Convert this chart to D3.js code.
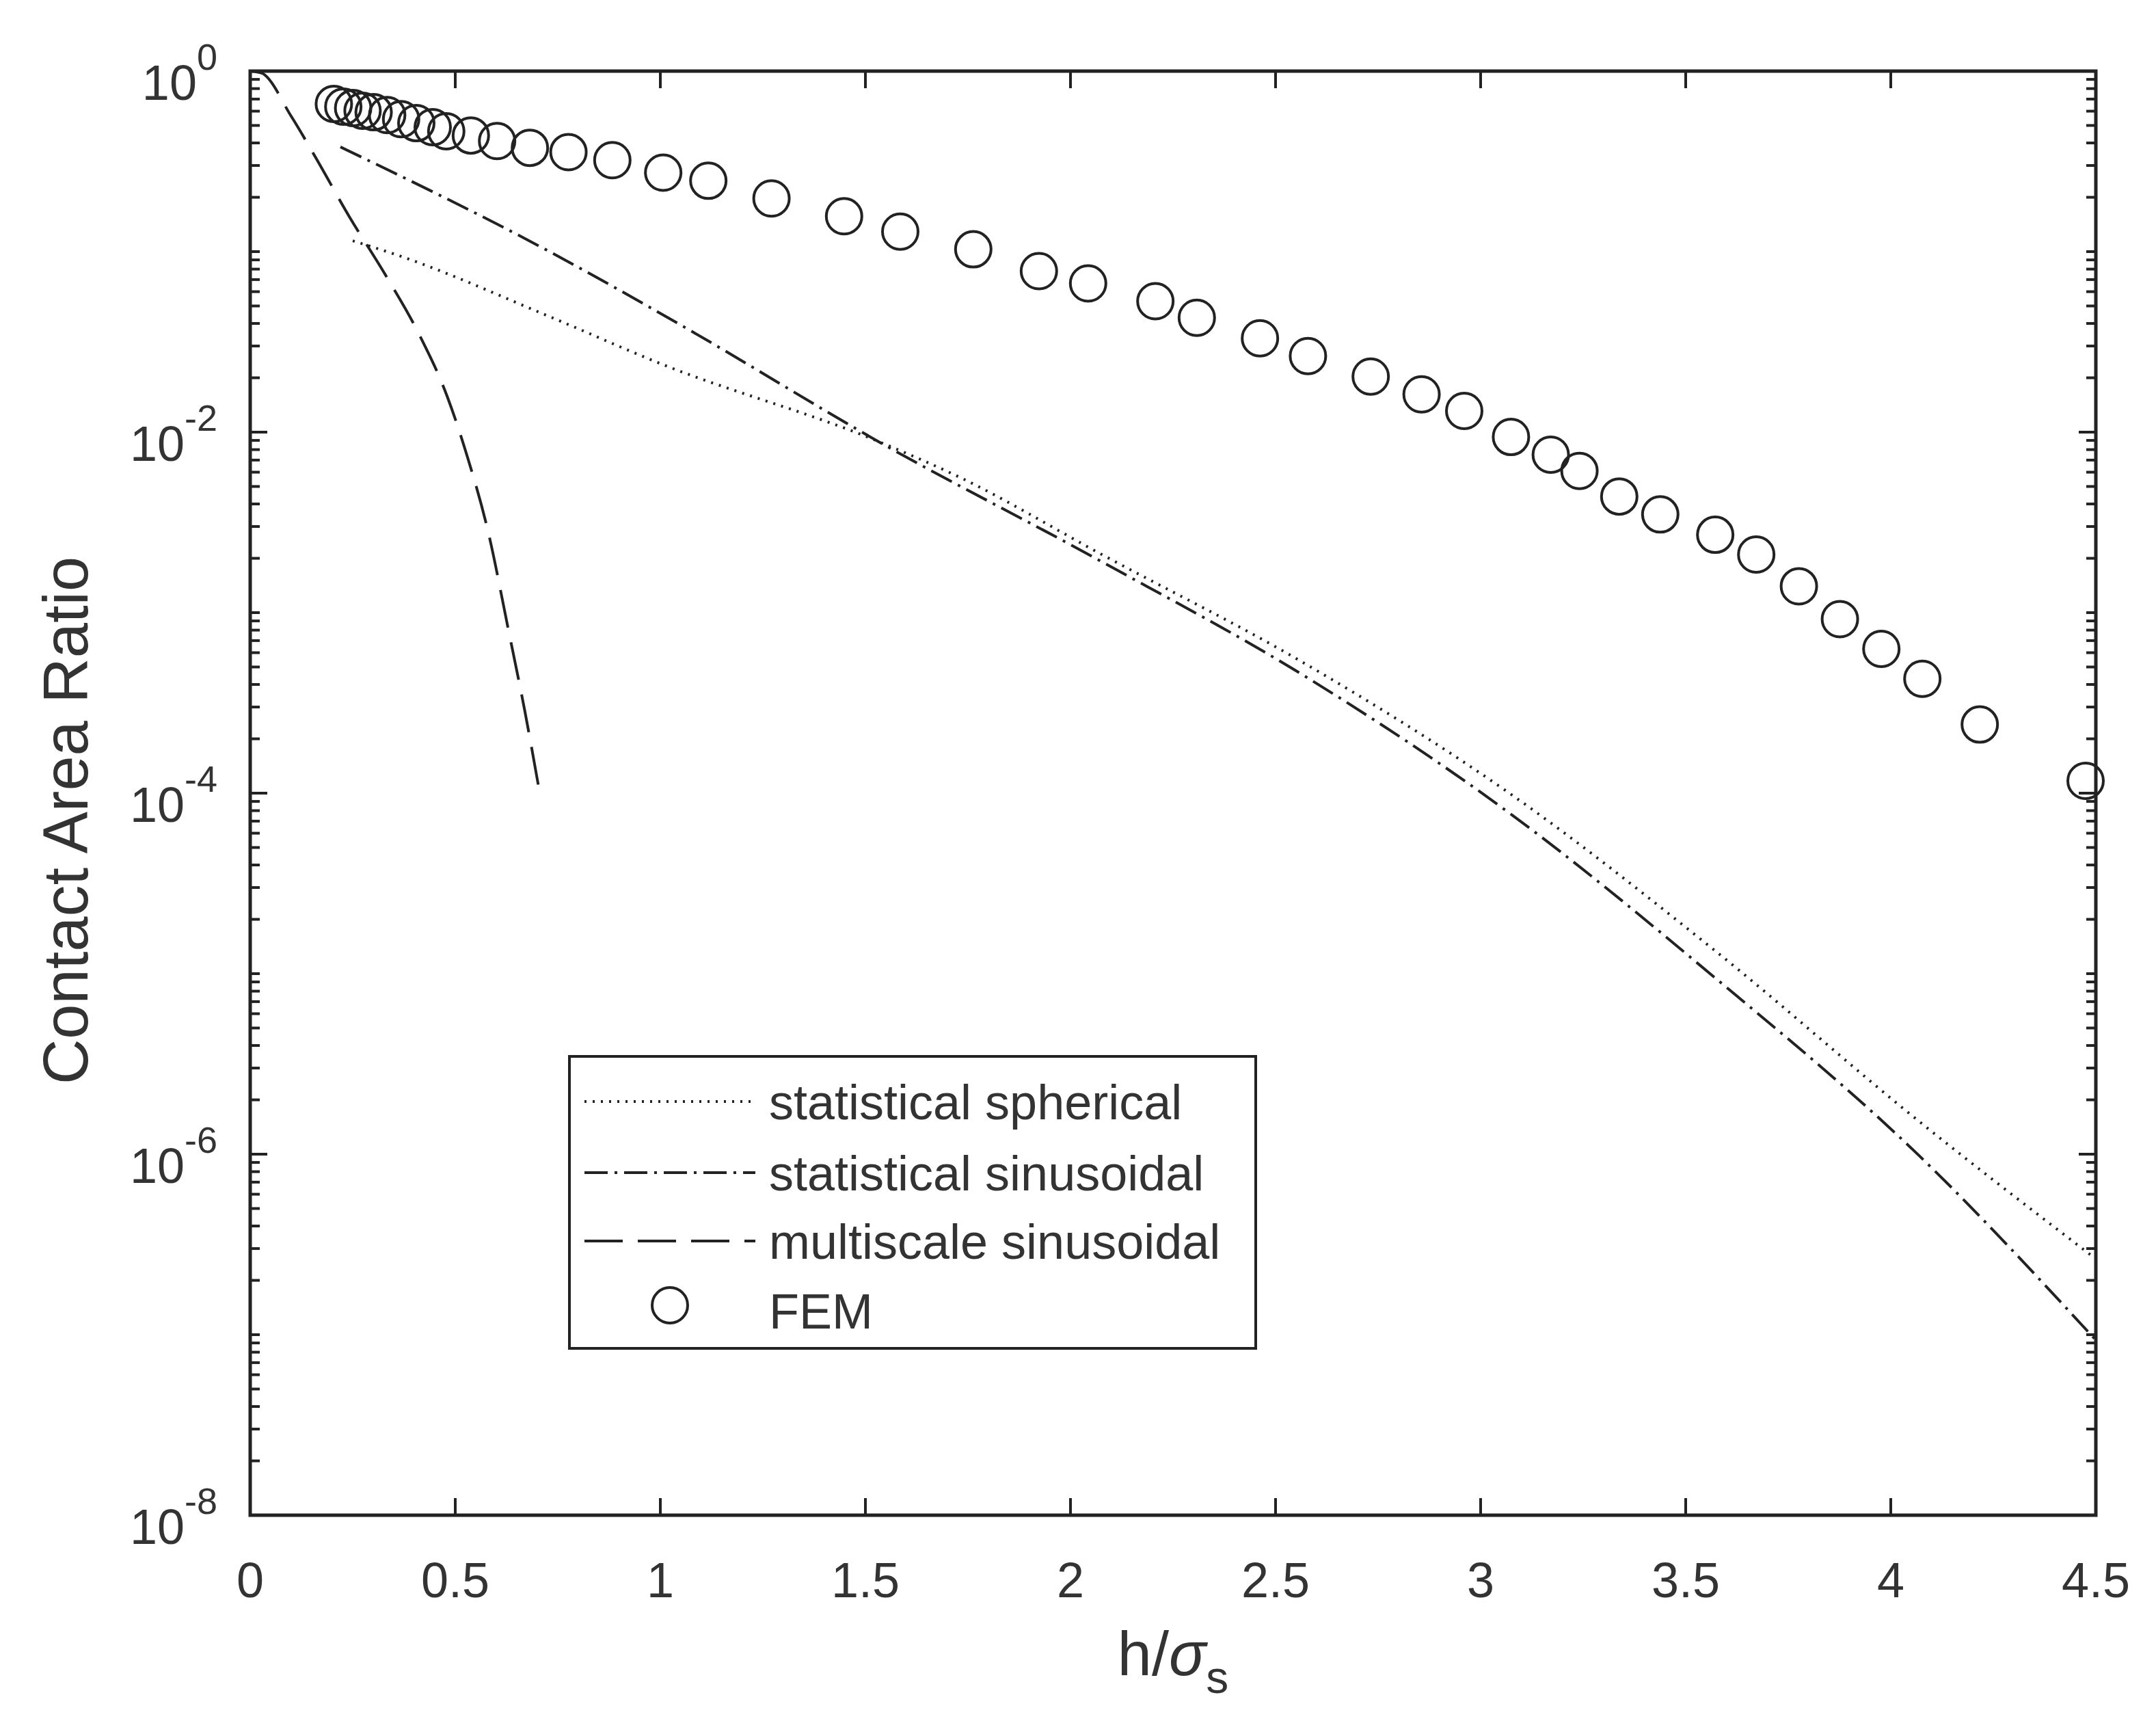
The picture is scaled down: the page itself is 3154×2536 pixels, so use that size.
<!DOCTYPE html>
<html>
<head>
<meta charset="utf-8">
<script src="https://cdn.jsdelivr.net/npm/d3@7"></script>
<style>
  body { margin: 0; background: #fff; }
  text { font-family: "Liberation Sans", Arial, sans-serif; fill: #333; }
</style>
</head>
<body>
<div id="chart"></div>
<script>
// FEM points (h/sigma_s, contact area ratio)
const femX = [0.204, 0.227, 0.251, 0.274, 0.301, 0.334, 0.368, 0.405, 0.445, 0.478, 0.538, 0.602, 0.682, 0.776, 0.883, 1.007, 1.117, 1.271, 1.448, 1.585, 1.763, 1.923, 2.043, 2.207, 2.308, 2.462, 2.579, 2.732, 2.856, 2.960, 3.074, 3.171, 3.241, 3.338, 3.438, 3.572, 3.672, 3.776, 3.876, 3.977, 4.077, 4.217, 4.475];
const femY = [0.658, 0.635, 0.624, 0.603, 0.592, 0.571, 0.542, 0.515, 0.489, 0.464, 0.440, 0.410, 0.376, 0.356, 0.321, 0.274, 0.247, 0.197, 0.157, 0.129, 0.103, 0.078, 0.0667, 0.0531, 0.0430, 0.0331, 0.0264, 0.0203, 0.0162, 0.0131, 0.0094, 0.0075, 0.0061, 0.0044, 0.0035, 0.0027, 0.0021, 0.0014, 0.00092, 0.00063, 0.00043, 0.00024, 0.000117];
// statistical spherical (log10 values)
const sphX = [0.25, 0.36, 0.73, 1.0, 1.53, 1.73, 2.07, 2.57, 3.07, 3.57, 4.07, 4.5];
const sphLog = [-0.94, -1.02, -1.36, -1.62, -2.05, -2.25, -2.67, -3.28, -4.0, -4.87, -5.82, -6.58];
// statistical sinusoidal
const sinX = [0.22, 0.73, 1.06, 1.53, 2.07, 2.57, 3.07, 3.57, 4.07, 4.5];
const sinLog = [-0.42, -1.0, -1.42, -2.05, -2.71, -3.35, -4.11, -5.02, -6.01, -7.03];
// multiscale sinusoidal
const msX = [0, 0.028, 0.1, 0.16, 0.24, 0.33, 0.41, 0.48, 0.53, 0.58, 0.63, 0.67, 0.706];
const msLog = [0, -0.011, -0.25, -0.48, -0.80, -1.13, -1.45, -1.80, -2.14, -2.55, -3.1, -3.55, -4.0];

const xTicks = [0, 0.5, 1, 1.5, 2, 2.5, 3, 3.5, 4, 4.5];
const yExps = [0, -2, -4, -6, -8];
const legendLabels = ["statistical spherical", "statistical sinusoidal", "multiscale sinusoidal", "FEM"];

const W = 3154, H = 2536;
const margin = { left: 366, right: W - 3066, top: 104, bottom: H - 2216 };
const iw = W - margin.left - margin.right, ih = H - margin.top - margin.bottom;
const ink = "#222";

const svg = d3.select("#chart").append("svg").attr("width", W).attr("height", H);
const g = svg.append("g").attr("transform", `translate(${margin.left},${margin.top})`);

const x = d3.scaleLinear().domain([0, 4.5]).range([0, iw]);
const y = d3.scaleLog().domain([1e-8, 1]).range([ih, 0]);

svg.append("clipPath").attr("id", "clip").append("rect").attr("width", iw).attr("height", ih);
const plot = g.append("g").attr("clip-path", "url(#clip)");

const line = d3.line().x(d => x(d[0])).y(d => y(d[1])).curve(d3.curveMonotoneX);
const mk = (xs, ls) => xs.map((v, i) => [v, Math.pow(10, ls[i])]);

const series = [
  { data: mk(sphX, sphLog), dash: "3,9" },
  { data: mk(sinX, sinLog), dash: "34,10,4,10" },
  { data: mk(msX, msLog), dash: "56,22" }
];
series.forEach(s => {
  plot.append("path").attr("d", line(s.data)).attr("fill", "none")
    .attr("stroke", ink).attr("stroke-width", 4).attr("stroke-dasharray", s.dash);
});

g.selectAll("circle.fem").data(femX.map((v, i) => [v, femY[i]])).enter().append("circle")
  .attr("class", "fem").attr("cx", d => x(d[0])).attr("cy", d => y(d[1])).attr("r", 26)
  .attr("fill", "none").attr("stroke", ink).attr("stroke-width", 4);

// axes: ticks pointing in, mirrored on top/right
const major = 25, minor = 14;
const ax = g.append("g").attr("stroke", ink);
xTicks.forEach(t => {
  ax.append("line").attr("x1", x(t)).attr("x2", x(t)).attr("y1", ih).attr("y2", ih - major).attr("stroke-width", 4);
  ax.append("line").attr("x1", x(t)).attr("x2", x(t)).attr("y1", 0).attr("y2", major).attr("stroke-width", 4);
});
for (let e = -8; e <= 0; e++) {
  for (let m = 1; m <= 9; m++) {
    const v = m * Math.pow(10, e);
    if (v > 1) continue;
    const len = (m === 1 && e % 2 === 0) ? major : minor;
    ax.append("line").attr("x1", 0).attr("x2", len).attr("y1", y(v)).attr("y2", y(v)).attr("stroke-width", 4);
    ax.append("line").attr("x1", iw).attr("x2", iw - len).attr("y1", y(v)).attr("y2", y(v)).attr("stroke-width", 4);
  }
}
g.append("rect").attr("width", iw).attr("height", ih).attr("fill", "none").attr("stroke", ink).attr("stroke-width", 5);

g.selectAll("text.xt").data(xTicks).enter().append("text").attr("class", "xt")
  .attr("x", d => x(d)).attr("y", ih + 120).attr("text-anchor", "middle")
  .attr("font-size", 72).text(d => d);

yExps.forEach(e => {
  const t = g.append("text").attr("x", -48).attr("y", y(Math.pow(10, e)) + 42)
    .attr("text-anchor", "end").attr("font-size", 72);
  t.append("tspan").text("10");
  t.append("tspan").attr("dy", -44).attr("font-size", 54).text(e === 0 ? "0" : "-" + (-e));
});

svg.append("text").attr("transform", `translate(96,${margin.top + ih / 2 + 40}) rotate(-90)`)
  .attr("text-anchor", "middle").attr("dominant-baseline", "central")
  .attr("font-size", 92).text("Contact Area Ratio");
const xl = svg.append("text").attr("x", margin.left + iw / 2).attr("y", 2450)
  .attr("text-anchor", "middle").attr("font-size", 90);
xl.append("tspan").text("h/");
xl.append("tspan").attr("font-style", "italic").text("σ");
xl.append("tspan").attr("dy", 26).attr("font-size", 66).text("s");

// legend
const lg = svg.append("g").attr("transform", "translate(833,1545)");
lg.append("rect").attr("width", 1004).attr("height", 427).attr("fill", "#fff").attr("stroke", ink).attr("stroke-width", 4);
const rowY = [66, 170, 270, 372];
legendLabels.forEach((lab, i) => {
  if (i < 3) {
    lg.append("line").attr("x1", 22).attr("x2", 272).attr("y1", rowY[i]).attr("y2", rowY[i])
      .attr("stroke", ink).attr("stroke-width", 4).attr("stroke-dasharray", series[i].dash);
  } else {
    lg.append("circle").attr("cx", 147).attr("cy", rowY[i] - 8).attr("r", 26)
      .attr("fill", "none").attr("stroke", ink).attr("stroke-width", 4);
  }
  lg.append("text").attr("x", 292).attr("y", rowY[i] + 26).attr("font-size", 72).text(lab);
});
</script>
</body>
</html>
